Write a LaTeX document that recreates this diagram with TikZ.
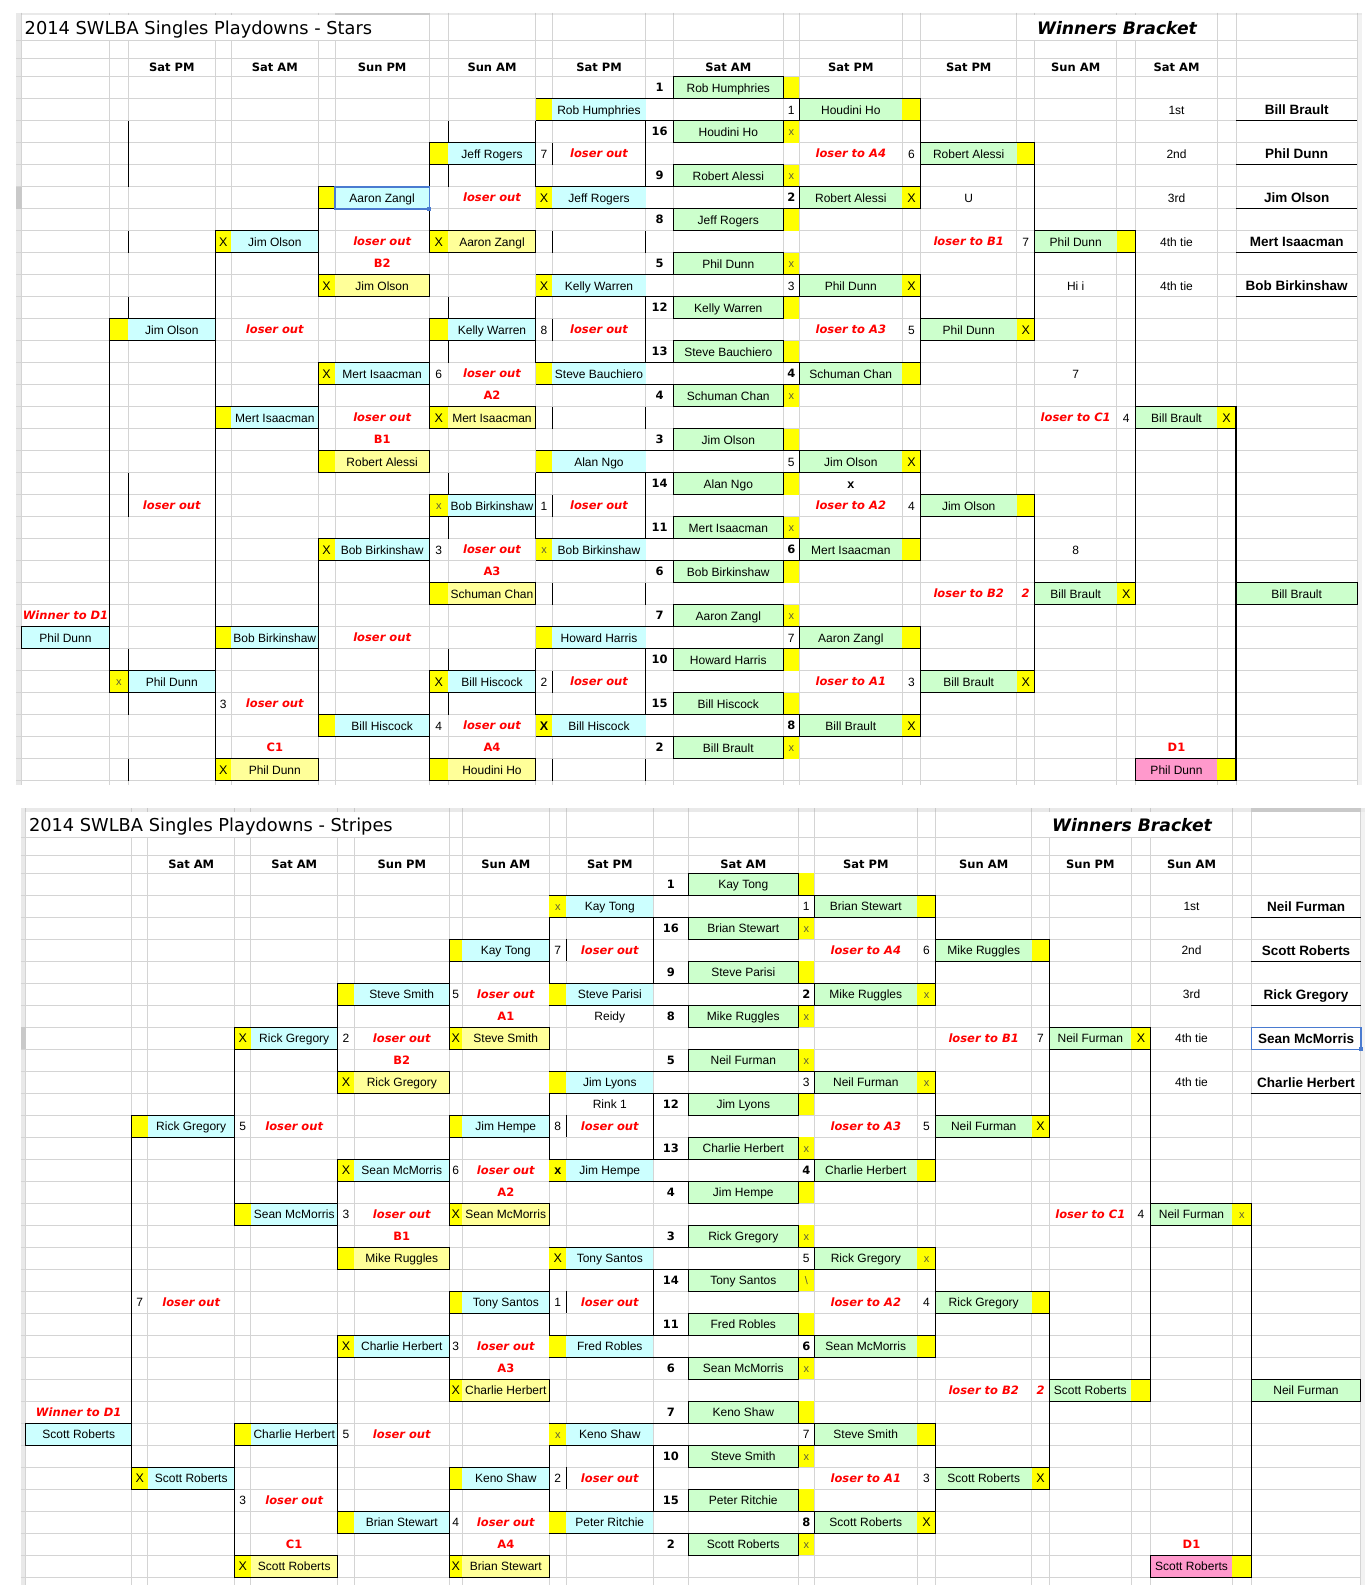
\documentclass[tikz,border=0pt]{standalone}
\usepackage{fontspec}
\setmainfont{Liberation Sans}
\newfontfamily\vfont{DejaVu Sans}
\definecolor{cyn}{HTML}{CCFFFF}
\definecolor{grn}{HTML}{CCFFCC}
\definecolor{yel}{HTML}{FFFF00}
\definecolor{lyel}{HTML}{FFFF99}
\definecolor{pnk}{HTML}{FF99CC}
\definecolor{lred}{HTML}{FF0000}
\definecolor{gridc}{HTML}{D4D4D4}
\definecolor{strip}{HTML}{E9E9E9}
\definecolor{stripsel}{HTML}{C9C9C9}
\definecolor{selblue}{HTML}{4A7BD0}
\definecolor{xgray}{HTML}{5E5E3A}
\tikzset{
  gridln/.style={draw=gridc,line width=0.7pt},
  brk/.style={draw=black,line width=1.2pt,line cap=square},
  cel/.style={anchor=base,inner sep=0pt},
  nm/.style={cel,font=\fontsize{12}{14}\selectfont,yshift=-4.3pt},
  pl/.style={cel,font=\fontsize{12}{14}\selectfont,yshift=-4.3pt},
  hd/.style={cel,font=\vfont\bfseries\fontsize{11.5}{13}\selectfont,yshift=-4.2pt},
  sd/.style={cel,font=\vfont\bfseries\fontsize{11.5}{13}\selectfont,yshift=-4.2pt},
  lo/.style={cel,font=\vfont\bfseries\itshape\fontsize{11.5}{13}\selectfont,text=lred,yshift=-4.2pt},
  lab/.style={cel,font=\vfont\bfseries\fontsize{11.5}{13}\selectfont,text=lred,yshift=-4.2pt},
  bx/.style={cel,font=\fontsize{12.5}{13}\selectfont,yshift=-4.5pt},
  bbx/.style={cel,font=\bfseries\fontsize{12.5}{13}\selectfont,yshift=-4.5pt},
  sx/.style={cel,font=\fontsize{11}{12}\selectfont,text=xgray,yshift=-3.8pt},
  fin/.style={cel,font=\bfseries\fontsize{13.5}{15}\selectfont,yshift=-4.9pt},
  ttl/.style={anchor=base west,inner sep=0pt,font=\vfont\fontsize{17.8}{20}\selectfont,yshift=-6.5pt},
  wbr/.style={anchor=base,inner sep=0pt,font=\vfont\bfseries\itshape\fontsize{17.2}{20}\selectfont,yshift=-6.2pt},
}
% cell helpers: column boundaries in \colsX, first data row top in \rowtop
\newcommand\cfill[3]{\pgfmathsetmacro\xa{\colsX[#2]}\pgfmathsetmacro\xb{\colsX[#2+1]}%
  \pgfmathsetmacro\ya{\rowtop+22*(#3-1)}\fill[#1] (\xa,\ya) rectangle (\xb,\ya+22);}
\newcommand\ctext[4][nm]{\pgfmathsetmacro\xa{\colsX[#2]}\pgfmathsetmacro\xb{\colsX[#2+1]}%
  \pgfmathsetmacro\ym{\rowtop+22*(#3-0.5)}\node[#1] (\pn-#2-#3) at ({(\xa+\xb)/2},\ym) {#4};}
\newcommand\cbox[3]{\pgfmathsetmacro\xa{\colsX[#1]}\pgfmathsetmacro\xb{\colsX[#2]}%
  \pgfmathsetmacro\ya{\rowtop+22*(#3-1)}\draw[brk] (\xa,\ya) rectangle (\xb,\ya+22);}
\newcommand\vseg[3]{\pgfmathsetmacro\xa{\colsX[#1]}%
  \draw[brk] (\xa,{\rowtop+22*(#2)}) -- (\xa,{\rowtop+22*(#3)});}
\newcommand\hseg[3]{\pgfmathsetmacro\xa{\colsX[#2]}\pgfmathsetmacro\xb{\colsX[#3]}%
  \draw[brk] (\xa,{\rowtop+22*(#1)}) -- (\xb,{\rowtop+22*(#1)});}
\newcommand\hdr[2]{\pgfmathsetmacro\xa{\colsX[#1]}\pgfmathsetmacro\xb{\colsX[#1+1]}%
  \node[hd] (\pn-h#1) at ({(\xa+\xb)/2},\hy) {#2};}
\newcommand\panelgrid[7]{%
  \pgfmathsetmacro\xz{\colsX[0]}%
  \fill[strip] (#1,#3) rectangle ({#2+4.7},#4);
  \fill[strip] (#1,#3) rectangle (\xz,#7);
  \fill[strip!60] (#2,#4) rectangle ({#2+4.7},#7);
  \foreach \k in {0,...,32} {\draw[gridln] (#1,{\rowtop+22*\k}) -- (#2,{\rowtop+22*\k});}
  \draw[gridln] (#1,#5) -- (#2,#5);
  \draw[gridln] (#1,#6) -- (#2,#6);
  \foreach \j in {0,...,23} {\pgfmathsetmacro\xa{\colsX[\j]}%
    \draw[gridln] (\xa,#5) -- (\xa,#7); \draw[gridln,draw=stripsel] (\xa,#3) -- (\xa,#4);}
  \foreach \j in {0,7,8,...,17,21,22,23} {\pgfmathsetmacro\xa{\colsX[\j]}\draw[gridln] (\xa,#4) -- (\xa,#5);}
}
% fills and bracket lines shared by both brackets
\newcommand\commonfill{%
  \foreach \r in {1,3,...,31} {\cfill{grn}{12}{\r}\cfill{yel}{13}{\r}}
  \foreach \r in {2,6,...,30} {\cfill{grn}{14}{\r}\cfill{yel}{15}{\r}\cfill{yel}{9}{\r}\cfill{cyn}{10}{\r}}
  \foreach \r in {4,12,20,28} {\cfill{grn}{16}{\r}\cfill{yel}{17}{\r}\cfill{yel}{7}{\r}\cfill{cyn}{8}{\r}}
  \foreach \r in {8,16,24,32} {\cfill{yel}{7}{\r}\cfill{lyel}{8}{\r}}
  \foreach \r in {6,14,22,30} {\cfill{yel}{5}{\r}\cfill{cyn}{6}{\r}}
  \foreach \r in {10,18} {\cfill{yel}{5}{\r}\cfill{lyel}{6}{\r}}
  \foreach \r in {8,16,26} {\cfill{yel}{3}{\r}\cfill{cyn}{4}{\r}}
  \cfill{yel}{3}{32}\cfill{lyel}{4}{32}
  \foreach \r in {12,28} {\cfill{yel}{1}{\r}\cfill{cyn}{2}{\r}}
  \cfill{cyn}{0}{26}
  \foreach \r in {8,24} {\cfill{grn}{18}{\r}\cfill{yel}{19}{\r}}
  \cfill{grn}{20}{16}\cfill{yel}{21}{16}
  \cfill{grn}{22}{24}
  \cfill{pnk}{20}{32}\cfill{yel}{21}{32}
  % first round
  \foreach \R in {2,6,...,30} {\cbox{12}{13}{\R-1}\cbox{12}{13}{\R+1}\cbox{14}{16}{\R}\hseg{\R-1}{9}{14}\hseg{\R}{9}{14}}
  \foreach \a in {2,10,18,26} {\vseg{9}{\a}{\a+3}\vseg{11}{\a}{\a+3}\vseg{10}{\a+1}{\a+2}\cbox{7}{9}{\a+2}%
    \vseg{16}{\a}{\a+3}\cbox{16}{18}{\a+2}}
  % losers side
  \foreach \m in {4,12,20,28} {\vseg{7}{\m}{\m+3}\cbox{5}{7}{\m+2}\cbox{7}{9}{\m+4}}
  \vseg{5}{6}{9}\vseg{5}{14}{17}\vseg{5}{22}{29}
  \cbox{3}{5}{8}\cbox{3}{5}{16}\cbox{3}{5}{26}\cbox{5}{7}{10}\cbox{5}{7}{18}
  \vseg{3}{8}{15}\vseg{3}{26}{31}\cbox{1}{3}{12}\cbox{1}{3}{28}\cbox{3}{5}{32}
  \vseg{1}{12}{27}\cbox{0}{1}{26}
  % winners side
  \vseg{18}{4}{11}\vseg{18}{20}{27}\cbox{18}{20}{8}\cbox{18}{20}{24}
  \vseg{20}{8}{23}\cbox{20}{22}{16}
  \vseg{22}{16}{31}\cbox{22}{23}{24}\cbox{20}{22}{32}
  \foreach \r in {2,4,...,10} {\hseg{\r}{22}{23}}
}
\newcommand\commontext{%
  \foreach \r/\s in {1/1,3/16,5/9,7/8,9/5,11/12,13/13,15/4,17/3,19/14,21/11,23/6,25/7,27/10,29/15,31/2} {\ctext[sd]{11}{\r}{\s}}
  \foreach \r/\s in {2/1,10/3,18/5,26/7} {\ctext{13}{\r}{\s}}
  \foreach \r/\s in {6/2,14/4,22/6,30/8} {\ctext[sd]{13}{\r}{\s}}
  \foreach \c/\r in {10/4,10/12,10/20,10/28,8/6,8/14,8/22,8/30,6/8,6/16,6/26,4/12,4/29,2/20} {\ctext[lo]{\c}{\r}{loser out}}
  \foreach \c/\r/\t in {14/4/A4,14/12/A3,14/20/A2,14/28/A1,16/8/B1,16/24/B2,18/16/C1} {\ctext[lo]{\c}{\r}{loser to \t}}
  \foreach \c/\r/\t in {15/4/6,15/12/5,15/20/4,15/28/3,17/8/7,19/16/4,9/4/7,9/12/8,9/20/1,9/28/2,7/14/6,7/22/3,7/30/4,3/29/3} {\ctext{\c}{\r}{\t}}
  \ctext[lo]{17}{24}{2}
  \foreach \c/\r/\t in {8/15/A2,8/23/A3,8/31/A4,6/9/B2,6/17/B1,4/31/C1,20/31/D1} {\ctext[lab]{\c}{\r}{\t}}
  \ctext[lo]{0}{25}{Winner to D1}
  \foreach \r/\t in {2/1st,4/2nd,6/3rd,8/4th tie,10/4th tie} {\ctext[pl]{20}{\r}{\t}}
}
\begin{document}
\begin{tikzpicture}[x=1pt,y=-1pt]
\useasboundingbox (0,0) rectangle (1369,1585);
\fill[white] (0,0) rectangle (1369,1585);

% ---------------- Stars
\def\pn{T}
\def\colsX{{21.7,109.3,128.3,215.3,231.3,318.3,335,429.3,448.3,535.7,552.3,645.7,673.3,783.3,799.3,902.3,920.7,1016.7,1034.7,1116.7,1135.7,1217.3,1236,1357.3}}
\def\rowtop{76.7}
\def\hy{67.7}
\panelgrid{16}{1357.3}{12.7}{15}{40.7}{58.7}{785}
\fill[stripsel] (16,186.7) rectangle (21.7,208.7);
\fill[stripsel] (335,12.7) rectangle (429.3,15);
\commonfill
\foreach \a/\b in {2/5,7/8,10/11,18/20,26/29,31/32} {\vseg{2}{\a}{\b}}
\foreach \a in {2,10,18,26} {\vseg{8}{\a}{\a+1}\vseg{8}{\a+2}{\a+3}}
\foreach \k in {7,15,23,31} {\vseg{10}{\k}{\k+1}\vseg{11}{\k}{\k+1}}
\vseg{3}{16}{25}
\draw[selblue,line width=1.6pt] (335,186.7) rectangle (429.3,208.7);
\fill[selblue] (427.3,206.7) rectangle (431.3,210.7);
\node[ttl] (T-title) at (24.5,27.9) {2014 SWLBA Singles Playdowns - Stars};
\node[wbr] (T-wb) at (1117,27.9) {Winners Bracket};
\foreach \c/\t in {2/Sat PM,4/Sat AM,6/Sun PM,8/Sun AM,10/Sat PM,12/Sat AM,14/Sat PM,16/Sat PM,18/Sun AM,20/Sat AM} {\hdr{\c}{\t}}
\commontext
\foreach \c/\r/\t in {12/1/Rob Humphries,10/2/Rob Humphries,14/2/Houdini Ho,12/3/Houdini Ho,8/4/Jeff Rogers,16/4/Robert Alessi,12/5/Robert Alessi,6/6/Aaron Zangl,10/6/Jeff Rogers,14/6/Robert Alessi,12/7/Jeff Rogers,4/8/Jim Olson,8/8/Aaron Zangl,18/8/Phil Dunn,12/9/Phil Dunn,6/10/Jim Olson,10/10/Kelly Warren,14/10/Phil Dunn,12/11/Kelly Warren,2/12/Jim Olson,8/12/Kelly Warren,16/12/Phil Dunn,12/13/Steve Bauchiero,6/14/Mert Isaacman,10/14/Steve Bauchiero,14/14/Schuman Chan,12/15/Schuman Chan,4/16/Mert Isaacman,8/16/Mert Isaacman,20/16/Bill Brault,12/17/Jim Olson,6/18/Robert Alessi,10/18/Alan Ngo,14/18/Jim Olson,12/19/Alan Ngo,8/20/Bob Birkinshaw,16/20/Jim Olson,12/21/Mert Isaacman,6/22/Bob Birkinshaw,10/22/Bob Birkinshaw,14/22/Mert Isaacman,12/23/Bob Birkinshaw,8/24/Schuman Chan,18/24/Bill Brault,22/24/Bill Brault,12/25/Aaron Zangl,0/26/Phil Dunn,4/26/Bob Birkinshaw,10/26/Howard Harris,14/26/Aaron Zangl,12/27/Howard Harris,2/28/Phil Dunn,8/28/Bill Hiscock,16/28/Bill Brault,12/29/Bill Hiscock,6/30/Bill Hiscock,10/30/Bill Hiscock,14/30/Bill Brault,12/31/Bill Brault,4/32/Phil Dunn,8/32/Houdini Ho,20/32/Phil Dunn,16/6/U,18/10/Hi i,18/14/7,18/22/8} {\ctext{\c}{\r}{\t}}
\foreach \r/\t in {2/Bill Brault,4/Phil Dunn,6/Jim Olson,8/Mert Isaacman,10/Bob Birkinshaw} {\ctext[fin]{22}{\r}{\t}}
\foreach \c/\r in {9/6,15/6,3/8,7/8,5/10,9/10,15/10,17/12,5/14,7/16,21/16,15/18,5/22,19/24,7/28,17/28,15/30,3/32} {\ctext[bx]{\c}{\r}{X}}
\ctext[bbx]{9}{30}{X}
\ctext[bbx]{14}{19}{x}
\foreach \c/\r in {13/3,13/5,13/9,13/15,13/21,13/25,13/31,7/20,9/22,1/28} {\ctext[sx]{\c}{\r}{x}}

% ---------------- Stripes
\def\pn{B}
\def\colsX{{25.7,131.7,147.7,234.7,250.7,337.7,354.3,449.3,462.3,549.3,566.3,653.3,688.3,798.3,814.3,917.3,935.7,1031.7,1049.3,1131.3,1150.7,1232.3,1251.3,1360.7}}
\def\rowtop{873.3}
\def\hy{864.5}
\panelgrid{20.7}{1360.7}{808.3}{812.3}{837.7}{855.7}{1585}
\fill[stripsel] (20.7,1027.3) rectangle (25.7,1049.3);
\fill[stripsel] (1251.3,808.3) rectangle (1360.7,812.3);
\commonfill
\draw[selblue,line width=1.6pt] (1251.3,1027.3) rectangle (1360.7,1049.3);
\fill[selblue] (1358.7,1047.3) rectangle (1362.7,1051.3);
\node[ttl] (B-title) at (28.8,825) {2014 SWLBA Singles Playdowns - Stripes};
\node[wbr] (B-wb) at (1132,825) {Winners Bracket};
\foreach \c/\t in {2/Sat AM,4/Sat AM,6/Sun PM,8/Sun AM,10/Sat PM,12/Sat AM,14/Sat PM,16/Sun AM,18/Sun PM,20/Sun AM} {\hdr{\c}{\t}}
\commontext
\ctext[lab]{8}{7}{A1}
\foreach \c/\r/\t in {7/6/5,5/8/2,5/16/3,5/26/5,3/12/5,1/20/7} {\ctext{\c}{\r}{\t}}
\foreach \c/\r/\t in {12/1/Kay Tong,10/2/Kay Tong,14/2/Brian Stewart,12/3/Brian Stewart,8/4/Kay Tong,16/4/Mike Ruggles,12/5/Steve Parisi,6/6/Steve Smith,10/6/Steve Parisi,14/6/Mike Ruggles,12/7/Mike Ruggles,4/8/Rick Gregory,8/8/Steve Smith,18/8/Neil Furman,12/9/Neil Furman,6/10/Rick Gregory,10/10/Jim Lyons,14/10/Neil Furman,12/11/Jim Lyons,2/12/Rick Gregory,8/12/Jim Hempe,16/12/Neil Furman,12/13/Charlie Herbert,6/14/Sean McMorris,10/14/Jim Hempe,14/14/Charlie Herbert,12/15/Jim Hempe,4/16/Sean McMorris,8/16/Sean McMorris,20/16/Neil Furman,12/17/Rick Gregory,6/18/Mike Ruggles,10/18/Tony Santos,14/18/Rick Gregory,12/19/Tony Santos,8/20/Tony Santos,16/20/Rick Gregory,12/21/Fred Robles,6/22/Charlie Herbert,10/22/Fred Robles,14/22/Sean McMorris,12/23/Sean McMorris,8/24/Charlie Herbert,18/24/Scott Roberts,22/24/Neil Furman,12/25/Keno Shaw,0/26/Scott Roberts,4/26/Charlie Herbert,10/26/Keno Shaw,14/26/Steve Smith,12/27/Steve Smith,2/28/Scott Roberts,8/28/Keno Shaw,16/28/Scott Roberts,12/29/Peter Ritchie,6/30/Brian Stewart,10/30/Peter Ritchie,14/30/Scott Roberts,12/31/Scott Roberts,4/32/Scott Roberts,8/32/Brian Stewart,20/32/Scott Roberts,10/7/Reidy,10/11/Rink 1} {\ctext{\c}{\r}{\t}}
\foreach \r/\t in {2/Neil Furman,4/Scott Roberts,6/Rick Gregory,8/Sean McMorris,10/Charlie Herbert} {\ctext[fin]{22}{\r}{\t}}
\foreach \c/\r in {3/8,7/8,19/8,5/10,17/12,5/14,7/16,9/18,5/22,7/24,1/28,17/28,15/30,3/32,7/32} {\ctext[bx]{\c}{\r}{X}}
\ctext[bbx]{9}{14}{x}
\foreach \c/\r in {9/2,13/3,15/6,13/7,13/9,15/10,13/13,21/16,13/17,15/18,13/23,9/26,13/27,13/31} {\ctext[sx]{\c}{\r}{x}}
\ctext[sx]{13}{19}{\textbackslash}
\end{tikzpicture}
\end{document}
